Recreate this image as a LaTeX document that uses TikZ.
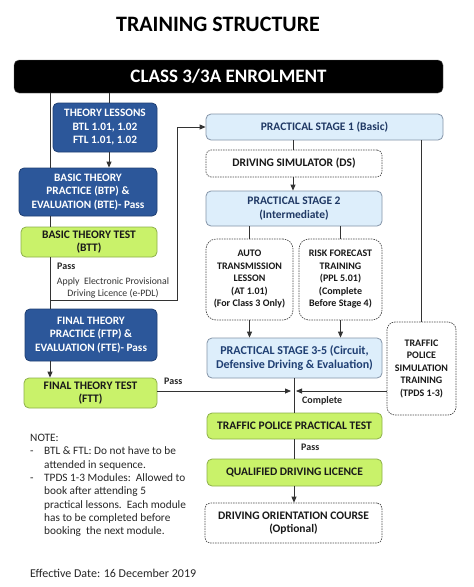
\documentclass[tikz,border=0pt]{standalone}
\usepackage{fontspec}
\setmainfont{Carlito}
\usetikzlibrary{arrows.meta}
\definecolor{dblue}{HTML}{2C579A}
\definecolor{dblueb}{HTML}{1F3F73}
\definecolor{lgreen}{HTML}{C9F26A}
\definecolor{lgreenb}{HTML}{8DB04A}
\definecolor{lblue}{HTML}{DDEEFB}
\definecolor{lblueb}{HTML}{8494A8}
\definecolor{navy}{HTML}{1F3864}
\definecolor{lin}{HTML}{333333}
\tikzset{
  base/.style={rounded corners=5pt, align=center, inner sep=1pt, font=\bfseries\fontsize{11.5}{13.5}\selectfont},
  darkbox/.style={base, fill=dblue, draw=dblueb, line width=0.8pt, text=white, font=\bfseries\fontsize{11.3}{13.5}\selectfont},
  greenbox/.style={base, fill=lgreen, draw=lgreenb, line width=0.8pt, text=black!90},
  bluebox/.style={base, fill=lblue, draw=lblueb, line width=0.8pt, text=navy},
  dashbox/.style={base, fill=white, draw=black!70, dashed, dash pattern=on 1.5pt off 1pt, line width=0.7pt, text=black!90},
  conn/.style={draw=lin, line width=0.8pt},
  arr/.style={conn, -{Triangle[length=6pt,width=5pt]}},
  lbl/.style={font=\bfseries\fontsize{10}{12}\selectfont, text=black!85, inner sep=0pt}
}
\begin{document}
\begin{tikzpicture}[x=1pt,y=-1pt]
\useasboundingbox (0,0) rectangle (474,587);
\fill[white] (0,0) rectangle (474,587);

\node[font=\bfseries\fontsize{22}{26}\selectfont, inner sep=0pt] (title) at (218,24.5) {TRAINING STRUCTURE};

\node[base, fill=black, draw=black!60, text=white, minimum width=429, minimum height=33, font=\bfseries\fontsize{19}{22}\selectfont] (enrol) at (228.5,76.5) {CLASS 3/3A ENROLMENT};

\node[darkbox, minimum width=104, minimum height=49] (theory) at (105,127.5) {THEORY LESSONS\\BTL 1.01, 1.02\\FTL 1.01, 1.02};
\node[darkbox, minimum width=138, minimum height=48] (btp) at (88,192) {BASIC THEORY\\PRACTICE (BTP) \&\\EVALUATION (BTE)- Pass};
\node[greenbox, minimum width=136, minimum height=30] (btt) at (89,242) {BASIC THEORY TEST\\(BTT)};
\node[darkbox, minimum width=132, minimum height=52] (ftp) at (91,335) {FINAL THEORY\\PRACTICE (FTP) \&\\EVALUATION (FTE)- Pass};
\node[greenbox, minimum width=133, minimum height=30] (ftt) at (90.5,393) {FINAL THEORY TEST\\(FTT)};

\node[bluebox, minimum width=237, minimum height=26] (ps1) at (324.5,127) {PRACTICAL STAGE 1 (Basic)};
\node[dashbox, minimum width=176, minimum height=27] (ds) at (294,163.5) {DRIVING SIMULATOR (DS)};
\node[bluebox, minimum width=176, minimum height=35] (ps2) at (294,208.5) {PRACTICAL STAGE 2\\(Intermediate)};
\node[dashbox, rounded corners=10pt, minimum width=87, minimum height=81, font=\bfseries\fontsize{10}{12.5}\selectfont] (at) at (249.5,279.5) {AUTO\\TRANSMISSION\\LESSON\\(AT 1.01)\\(For Class 3 Only)};
\node[dashbox, rounded corners=10pt, minimum width=83, minimum height=81, font=\bfseries\fontsize{10}{12.5}\selectfont] (rf) at (340.5,279.5) {RISK FORECAST\\TRAINING\\(PPL 5.01)\\(Complete\\Before Stage 4)};
\node[bluebox, minimum width=175, minimum height=40, text=dblueb, font=\bfseries\fontsize{12}{14.5}\selectfont] (ps35) at (294.5,358) {PRACTICAL STAGE 3-5 (Circuit,\\Defensive Driving \& Evaluation)};
\node[dashbox, rounded corners=8pt, minimum width=69, minimum height=93, font=\bfseries\fontsize{10}{12.5}\selectfont] (tpst) at (421.5,368.5) {TRAFFIC\\POLICE\\SIMULATION\\TRAINING\\(TPDS 1-3)};
\node[greenbox, minimum width=175, minimum height=26] (tppt) at (294.5,426) {TRAFFIC POLICE PRACTICAL TEST};
\node[greenbox, minimum width=175, minimum height=27] (qdl) at (294.5,472.5) {QUALIFIED DRIVING LICENCE};
\node[dashbox, minimum width=177, minimum height=40] (doc) at (293.5,523) {DRIVING ORIENTATION COURSE\\(Optional)};

\coordinate (L) at (50,0);
\coordinate (T) at (109,0);
\coordinate (B) at (50,300);
\coordinate (R) at (177,300);
\coordinate (M) at (294,391);
\coordinate (V) at (293,0);

\draw[conn] (enrol.south -| L) -- (btp.north -| L);
\draw[conn] (enrol.south -| T) -- (theory.north -| T);
\draw[arr] (theory.south -| T) -- (btp.north -| T);
\draw[conn] (btp.south -| L) -- (btt.north -| L);
\draw[conn] (btt.south -| L) -- (ftp.north -| L);
\draw[conn] (B) -- (R) -- (R |- ps1.west);
\draw[arr] (R |- ps1.west) -- (ps1.west);
\draw[arr] (ftp.south -| L) -- (ftt.north -| L);

\draw[conn] (ps1.south -| V) -- (ds.north -| V);
\draw[arr] (ds.south -| V) -- (ps2.north -| V);
\draw[conn] (ps2.south -| at) -- (at.north);
\draw[conn] (ps2.south -| rf) -- (rf.north);
\draw[arr] (at.south) -- (ps35.north -| at);
\draw[arr] (rf.south) -- (ps35.north -| rf);
\draw[conn] (ps1.south -| tpst) -- (tpst.north);
\draw[conn] (ps35.south -| M) -- (tppt.north -| M);
\draw[arr, shorten >=3pt] (ftt.east |- M) -- (M);
\draw[arr, shorten >=2pt] (tpst.west |- M) -- (M);
\draw[conn] (tppt.south -| M) -- (qdl.north -| M);
\draw[arr] (qdl.south -| M) -- (doc.north -| M);

\node[lbl, anchor=west] (pass1) at (57,266) {Pass};
\node[font=\fontsize{9.8}{12}\selectfont, align=center, inner sep=0pt, text=black!80] (epdl) at (113,288) {Apply\ \ Electronic Provisional\\Driving Licence (e-PDL)};
\node[lbl, anchor=west] (pass2) at (164,381) {Pass};
\node[lbl, anchor=west] (compl) at (302,401) {Complete};
\node[lbl, anchor=west] (pass3) at (301,447) {Pass};

\node[anchor=north west, inner sep=0pt, font=\fontsize{11.3}{13.3}\selectfont, text=black!85] (note) at (30,432) {%
\begin{tabular}{@{}p{14pt}@{}l@{}}
\multicolumn{2}{@{}l@{}}{NOTE:}\\
- & BTL \& FTL: Do not have to be\\
 & attended in sequence.\\
- & TPDS 1-3 Modules:\ \ Allowed to\\
 & book after attending 5\\
 & practical lessons.\ \ Each module\\
 & has to be completed before\\
 & booking\ \ the next module.
\end{tabular}};
\node[anchor=west, inner sep=0pt, font=\fontsize{12}{13}\selectfont, text=black!85] (date) at (30,573) {Effective Date: 16 December 2019};
\end{tikzpicture}
\end{document}
